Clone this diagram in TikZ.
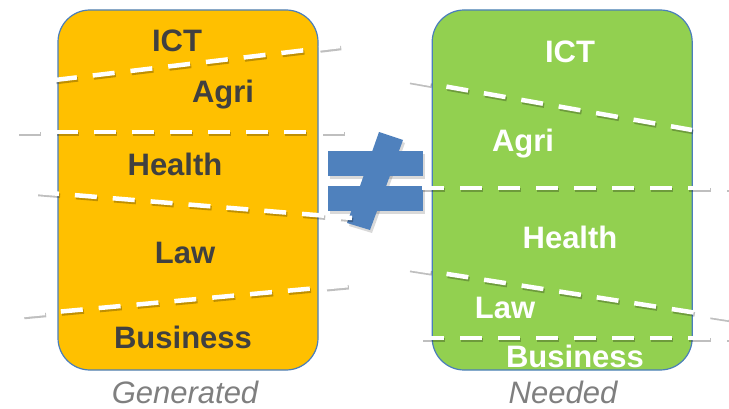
\documentclass[tikz,border=0pt]{standalone}
\usepackage{fontspec}
\setmainfont{Liberation Sans}
\usetikzlibrary{positioning}
\definecolor{gencol}{HTML}{FFC000}
\definecolor{needcol}{HTML}{92D050}
\definecolor{edgecol}{HTML}{4A7EBB}
\definecolor{signcol}{HTML}{4F81BD}
\definecolor{darktext}{HTML}{404040}
\definecolor{captext}{HTML}{7F7F7F}

\begin{document}
\begin{tikzpicture}[x=1pt,y=-1pt,
    box/.style={draw=edgecol,line width=1.2pt,rounded corners=32pt,minimum width=260pt,minimum height=360pt,inner sep=0pt},
    lbl/.style={font=\fontsize{31}{36}\selectfont\bfseries,anchor=base,inner sep=0pt},
    caption/.style={font=\fontsize{31}{36}\selectfont\itshape,text=captext,anchor=base,inner sep=0pt},
    cut/.style={white,line width=4.5pt,dash pattern=on 22pt off 16pt},
    cutshadow/.style={cut,black,opacity=0.25,transform canvas={shift={(1.2pt,-2pt)}}},
    signshadow/.style={black,opacity=0.15,transform canvas={shift={(2pt,-3pt)}}}]
    \useasboundingbox (0,0) rectangle (729,409);

    % the two boxes
    \node[box,fill=gencol] (gen) at (188,190) {};
    \node[box,fill=needcol,right=113pt of gen] (need) {};

    % not equal sign
    \foreach \sty in {signshadow,signcol} {
        \fill[\sty] (328,151) rectangle (423,176);
        \fill[\sty] (328,186) rectangle (423,211);
        \fill[\sty] (379,132) -- (403,140) -- (370,230) -- (347,223) -- cycle;
    }

    % dashed cuts
    \foreach \xa/\ya/\xb/\yb in {55/80/340/46, 18/132/345/132, 37/192/352/218, 23/315/350/285,
                                 409/80/692/130, 422/188/729/188, 409/268/729/318, 422/338/729/338} {
        \draw[cutshadow] (\xa,\ya) -- (\xb,\yb);
        \draw[cut] (\xa,\ya) -- (\xb,\yb);
    }

    % generated
    \node[lbl,text=darktext] (g-ict) at (177,52) {ICT};
    \node[lbl,text=darktext] (g-agri) at (223,103) {Agri};
    \node[lbl,text=darktext] (g-health) at (175,176) {Health};
    \node[lbl,text=darktext] (g-law) at (185,263) {Law};
    \node[lbl,text=darktext] (g-bus) at (183,348) {Business};

    % needed
    \node[lbl,text=white] (n-ict) at (570,63) {ICT};
    \node[lbl,text=white] (n-agri) at (523,152) {Agri};
    \node[lbl,text=white] (n-health) at (570,248) {Health};
    \node[lbl,text=white] (n-law) at (505,318) {Law};
    \node[lbl,text=white] (n-bus) at (575,367) {Business};

    \node[caption] (gen-cap) at (185,403) {Generated};
    \node[caption] (need-cap) at (563,403) {Needed};
\end{tikzpicture}
\end{document}
